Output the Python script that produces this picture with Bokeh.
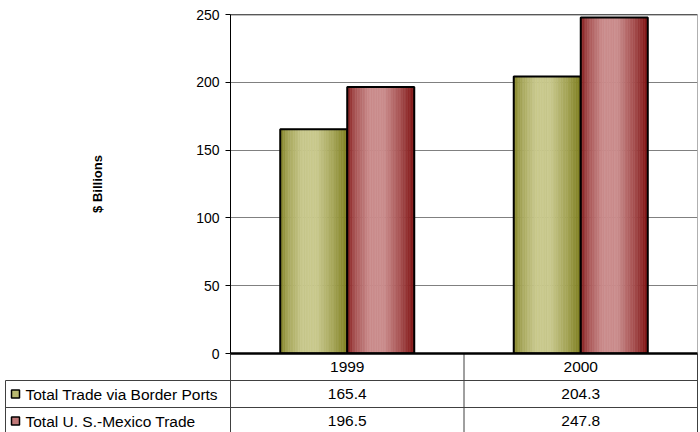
import numpy as np
from bokeh.plotting import figure
from bokeh.models import Range1d, FixedTicker, Span
from bokeh.embed import file_html
from bokeh.resources import INLINE
from bokeh.core.properties import value

# ---------------- data ----------------
years = ["1999", "2000"]
series_names = ["Total Trade via Border Ports", "Total U. S.-Mexico Trade"]
border_ports = [165.4, 204.3]
us_mexico = [196.5, 247.8]
y_ticks = [0, 50, 100, 150, 200, 250]

# ---------------- styling / layout ----------------
FONT = "Liberation Sans"
FS = "15.5px"
W, H = 700, 432
PL, PR, PT, PB = 230, 697, 14, 353
PX = (PR - PL) / len(years)          # pixels per category
BAR_W = 67 / PX                      # bar width in category units
ROW = 27                             # table row height in px
TABLE_LEFT = 5

series = [
    (border_ports, (-1, 0), (126, 126, 30), (200, 200, 140), "#b8b870"),
    (us_mexico, (0, 1), (128, 18, 18), (202, 140, 140), "#c07878"),
]

p = figure(width=W, height=H, x_range=Range1d(0, len(years)),
           y_range=Range1d(0, 250), output_backend="svg",
           toolbar_location=None, min_border_left=PL, min_border_right=W - PR,
           min_border_top=PT, min_border_bottom=H - PB, x_axis_location=None)

# table coordinate system: rows below the frame bottom, 0 at frame bottom
p.extra_y_ranges = {"table": Range1d(start=0, end=-(PB - PT) / ROW)}

p.xgrid.visible = False
p.ygrid.ticker = FixedTicker(ticks=y_ticks)
p.ygrid.grid_line_color = "#808080"
p.outline_line_color = "#b0b0b0"
p.background_fill_color = "white"
p.border_fill_color = "white"

ax = p.yaxis[0]
ax.ticker = FixedTicker(ticks=y_ticks)
ax.major_tick_out = 5
ax.major_tick_in = 0
ax.minor_tick_line_color = None
ax.axis_line_color = "black"
ax.major_tick_line_color = "black"
ax.major_label_text_font = FONT
ax.major_label_text_font_size = "14px"
ax.major_label_text_color = "black"
ax.major_label_standoff = 6
ax.axis_label = "$ Billions"
ax.axis_label_text_font = FONT
ax.axis_label_text_font_style = "bold"
ax.axis_label_text_font_size = "13px"
ax.axis_label_text_color = "black"
ax.axis_label_standoff = 88

# gradient profile across each bar
prof_t = [0.0, 0.12, 0.33, 0.55, 0.8, 1.0]
prof_f = [0.05, 0.55, 1.0, 1.0, 0.5, 0.0]
N = 40
for vals, (a, b), dark, light, _ in series:
    L, R, T, C = [], [], [], []
    for i, v in enumerate(vals):
        x0 = i + 0.5 + a * BAR_W
        for k in range(N):
            t = (k + 0.5) / N
            f = np.interp(t, prof_t, prof_f)
            rgb = tuple(int(round(d + (l - d) * f)) for d, l in zip(dark, light))
            L.append(x0 + k * BAR_W / N)
            R.append(x0 + (k + 1) * BAR_W / N)
            T.append(v)
            C.append("#%02x%02x%02x" % rgb)
    p.quad(left=L, right=R, bottom=0, top=T, fill_color=C, line_color=C, line_width=0.6)
    p.quad(left=[i + 0.5 + a * BAR_W for i in range(len(vals))],
           right=[i + 0.5 + b * BAR_W for i in range(len(vals))],
           bottom=0, top=vals, fill_color=None, line_color="black", line_width=2)

p.add_layout(Span(location=250, dimension="width", line_color="black", line_width=1.5))

# ---------------- data table (drawn below the frame) ----------------
xl = (TABLE_LEFT - PL) / PX
nrows = 1 + len(series)
LC = "#404040"
rends = []
rends.append(p.segment(x0=[xl, xl], y0=[1, 2], x1=[len(years)] * 2, y1=[1, 2],
                       line_color=LC, line_width=1, y_range_name="table"))
rends.append(p.segment(x0=[xl, 0, 1, 2], y0=[1, 0, 0, 0], x1=[xl, 0, 1, 2], y1=[nrows] * 4,
                       line_color=LC, line_width=1, y_range_name="table"))
rends.append(p.segment(x0=[0], y0=[0], x1=[len(years)], y1=[0],
                       line_color="black", line_width=2.5, y_range_name="table"))
rends.append(p.text(x=[i + 0.5 for i in range(len(years))], y=[0.5] * len(years), text=years,
                    text_align="center", text_baseline="middle", y_range_name="table",
                    text_font=value(FONT), text_font_size=FS, text_color="black"))
for r, (vals, _, _, _, sw) in enumerate(series):
    rends.append(p.text(x=[i + 0.5 for i in range(len(vals))], y=[r + 1.5] * len(vals),
                        text=["%.1f" % v for v in vals], text_align="center",
                        text_baseline="middle", y_range_name="table",
                        text_font=value(FONT), text_font_size=FS, text_color="black"))
rends.append(p.rect(x=[(15 - PL) / PX] * len(series), y=[r + 1.5 for r in range(len(series))],
                    width=8, height=8, width_units="screen", height_units="screen",
                    fill_color=[s[4] for s in series],
                    line_color="black", line_width=1.5, y_range_name="table"))
rends.append(p.text(x=[(25 - PL) / PX] * len(series), y=[r + 1.5 for r in range(len(series))],
                    text=series_names, text_align="left", text_baseline="middle",
                    y_range_name="table",
                    text_font=value(FONT), text_font_size=FS, text_color="black"))
for r in rends:
    r.level = "overlay"

open("out.html", "w").write(file_html(p, INLINE))
